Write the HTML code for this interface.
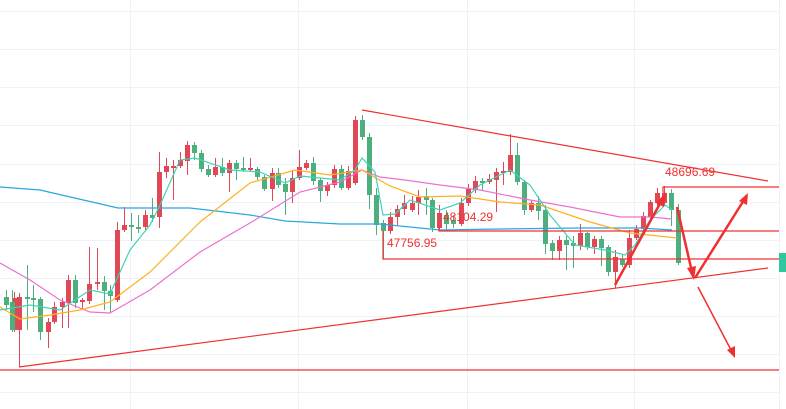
<!DOCTYPE html>
<html><head><meta charset="utf-8"><style>
html,body{margin:0;padding:0;background:#fff;}
svg{display:block;font-family:"Liberation Sans",sans-serif;}
</style></head><body>
<svg id="s" width="786" height="409" viewBox="0 0 786 409" xmlns="http://www.w3.org/2000/svg">
<rect width="786" height="409" fill="#fff"/>
<g stroke="#eef2f6" stroke-width="1">
<line x1="0" y1="11.5" x2="779" y2="11.5"/><line x1="0" y1="49.5" x2="779" y2="49.5"/>
<line x1="0" y1="87.5" x2="779" y2="87.5"/><line x1="0" y1="125.5" x2="779" y2="125.5"/>
<line x1="0" y1="164.5" x2="779" y2="164.5"/><line x1="0" y1="202.5" x2="779" y2="202.5"/>
<line x1="0" y1="240.5" x2="779" y2="240.5"/><line x1="0" y1="278.5" x2="779" y2="278.5"/>
<line x1="0" y1="316.5" x2="779" y2="316.5"/><line x1="0" y1="354.5" x2="779" y2="354.5"/>
<line x1="0" y1="392.5" x2="779" y2="392.5"/>
<line x1="130.5" y1="0" x2="130.5" y2="409"/><line x1="298.5" y1="0" x2="298.5" y2="409"/>
<line x1="467.5" y1="0" x2="467.5" y2="409"/><line x1="634.5" y1="0" x2="634.5" y2="409"/>
<line x1="779.5" y1="0" x2="779.5" y2="409"/>
</g>
<g id="c"></g>
<g fill="none" stroke-width="1.2">
<polyline stroke="#29a8e0" points="0,187 40,190 118,208 190,208 250,215 285,221 340,224 380,224 440,230 500,229 580,228 640,228 672,230"/>
<polyline stroke="#ee6fd0" points="0,263 30,280 60,300 90,312 110,313 150,290 200,252 250,223 300,192 340,182 362,170 380,177 405,180 440,185 480,190 530,200 570,207 620,217 650,217 672,219"/>
<polyline stroke="#ffb020" points="0,307 20,319 50,315 80,310 110,302 150,272 200,222 250,183 295,170 330,175 362,170 390,186 420,197 460,196 500,202 540,205 590,222 630,233 677,238"/>
<polyline stroke="#3fd3b8" points="0,310 30,305 60,310 90,290 110,294 130,250 150,225 160,205 180,160 195,158 230,170 260,172 285,183 300,176 340,180 355,170 362,158 375,172 383,215 395,214 410,200 440,210 460,203 480,185 510,170 530,185 550,215 575,245 605,250 625,255 635,245 650,220 665,205 672,210"/>
</g>
<g stroke="#f03030" stroke-width="1.2" fill="none">
<line x1="362" y1="110" x2="768" y2="181"/>
<line x1="19" y1="367" x2="768" y2="268"/>
<line x1="0" y1="370" x2="779" y2="370"/>
<polyline points="383,231 383,259 779,259"/>
<polyline points="439,226 439,231 779,231"/>
<polyline points="663,193 663,187 779,187"/>
</g>
<g fill="#f03030" font-size="12">
<text x="665" y="176">48696.69</text>
<text x="443" y="221">48104.29</text>
<text x="387" y="247">47756.95</text>
</g>
<g stroke="#f03030" stroke-width="2.5" fill="#f03030">
<line x1="615" y1="285" x2="662" y2="200"/><polygon points="666,192 656,203 664,207" stroke="none"/>
<line x1="677" y1="207" x2="692" y2="272"/><polygon points="694,280 687,268 696,266" stroke="none"/>
<line x1="695" y1="278" x2="744" y2="200"/><polygon points="748,193 739,201 747,205" stroke="none"/>
<line x1="698" y1="287" x2="731" y2="350" stroke-width="1.5"/><polygon points="735,358 727,350 735,346" stroke="none"/>
</g>
<rect x="779" y="253" width="7" height="19" fill="#2fc79c"/>
</svg>
<script>
var d=[[6,297,305,290,310,0],[14,330,298,292,332,1],[12,302,330,290,332,0],[19,330,297,293,367,1],[27,297,298,265,330,0],[33,298,300,285,312,0],[40,299,332,297,340,0],[48,332,322,318,348,1],[54,322,307,302,324,1],[62,307,302,298,328,1],[68,303,280,275,328,1],[75,280,303,275,308,0],[82,302,300,298,310,1],[89,301,284,247,304,1],[97,284,282,248,290,1],[104,282,291,276,310,0],[110,291,296,285,313,0],[117,300,230,222,302,1],[124,230,225,207,232,1],[131,225,227,213,241,0],[138,227,228,215,233,0],[145,227,215,210,230,1],[152,215,218,198,222,0],[159,217,172,152,228,1],[166,172,166,158,178,1],[173,168,166,160,200,1],[180,166,160,152,168,1],[187,161,145,141,175,1],[194,145,153,142,160,0],[201,153,169,150,172,0],[208,169,175,165,177,0],[215,175,167,158,177,1],[222,167,173,158,176,0],[229,173,163,160,192,1],[236,163,169,160,180,0],[243,168,170,157,172,0],[250,170,168,158,172,1],[257,169,177,167,180,0],[264,177,189,175,191,0],[272,189,173,168,201,1],[278,173,185,168,188,0],[285,184,192,178,215,0],[292,192,178,170,203,1],[299,178,167,150,180,1],[306,168,163,160,170,1],[313,163,181,157,185,0],[320,180,191,178,202,0],[327,191,185,182,196,1],[334,185,169,165,188,1],[341,169,188,165,190,0],[348,188,171,166,190,1],[355,183,120,116,185,1],[362,120,137,115,140,0],[369,137,195,133,209,0],[376,195,225,188,235,0],[383,223,231,220,259,0],[390,231,217,212,234,1],[397,217,209,205,225,1],[404,209,203,195,215,1],[412,210,203,196,212,1],[418,203,197,190,215,1],[426,200,196,188,215,0],[432,200,228,198,232,0],[439,228,213,205,230,1],[446,215,224,210,230,0],[453,220,224,215,228,0],[461,224,203,198,226,1],[468,203,189,184,206,1],[475,190,181,176,193,1],[482,181,183,178,190,0],[489,182,179,174,184,1],[496,180,172,168,212,1],[503,173,171,162,185,1],[510,172,155,134,175,1],[517,155,182,143,185,0],[524,182,210,180,215,0],[531,210,203,200,212,1],[538,203,211,196,220,0],[545,210,244,205,254,0],[552,243,251,240,260,0],[559,251,240,236,260,1],[566,240,245,236,270,0],[573,243,246,236,268,0],[580,246,233,224,250,1],[587,233,247,232,250,0],[594,247,239,236,254,1],[601,239,248,236,266,0],[608,247,272,245,276,0],[615,272,257,250,288,1],[622,259,265,255,267,0],[629,265,238,230,268,1],[636,238,229,225,240,1],[643,229,216,212,232,1],[650,217,202,200,220,1],[657,203,193,188,206,1],[664,203,193,186,206,1],[671,193,210,189,226,0],[678,210,263,204,265,0]];
var g=document.getElementById('c'),h='';
d.forEach(function(a){var col=a[5]?'#e04855':'#4caf7d';var t=Math.min(a[1],a[2]),b=Math.max(a[1],a[2]);if(b-t<2)b=t+2;
h+='<line x1="'+(a[0]+.5)+'" y1="'+a[3]+'" x2="'+(a[0]+.5)+'" y2="'+a[4]+'" stroke="'+col+'" stroke-width="1"/>';
h+='<rect x="'+(a[0]-2)+'" y="'+t+'" width="5" height="'+(b-t)+'" fill="'+col+'"/>';});
g.innerHTML=h;
</script>
</body></html>
